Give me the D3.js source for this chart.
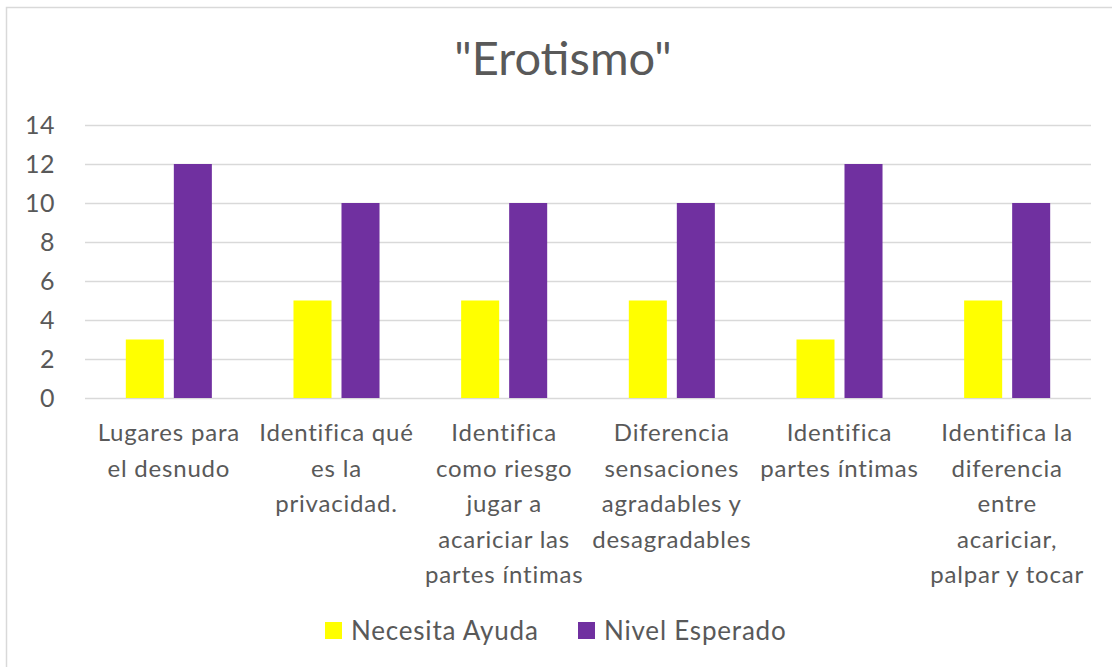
<!DOCTYPE html>
<html>
<head>
<meta charset="utf-8">
<script src="https://cdn.jsdelivr.net/npm/d3@7"></script>
<style>
  html, body { margin: 0; padding: 0; background: #fff; }
  svg { display: block; font-family: Lato, "Open Sans", sans-serif; }
</style>
</head>
<body>
<svg id="chart" width="1112" height="667"></svg>
<script>
// Chart data
const title = '"Erotismo"';
const categories = [
  "Lugares para\nel desnudo",
  "Identifica qué\nes la\nprivacidad.",
  "Identifica\ncomo riesgo\njugar a\nacariciar las\npartes íntimas",
  "Diferencia\nsensaciones\nagradables y\ndesagradables",
  "Identifica\npartes íntimas",
  "Identifica la\ndiferencia\nentre\nacariciar,\npalpar y tocar"
];
const seriesNames = ["Necesita Ayuda", "Nivel Esperado"];
const necesitaAyuda = [3, 5, 5, 5, 3, 5];
const nivelEsperado = [12, 10, 10, 10, 12, 10];
const seriesColors = ["#FFFF00", "#7030A0"];
const yTicks = [0, 2, 4, 6, 8, 10, 12, 14];

const seriesValues = [necesitaAyuda, nivelEsperado];
const rows = categories.map((c, i) => ({
  category: c,
  values: seriesNames.map((s, j) => ({ series: s, value: seriesValues[j][i] }))
}));

const svg = d3.select("#chart");
const textColor = "#595959";
const gridColor = "#d9d9d9";

// Chart frame
svg.append("rect")
  .attr("x", 6.5).attr("y", 7.5)
  .attr("width", 1200).attr("height", 800)
  .attr("fill", "none").attr("stroke", gridColor).attr("stroke-width", 1.5);

const plot = { left: 85, right: 1091, top: 125, bottom: 398 };

const x0 = d3.scaleBand().domain(categories).range([plot.left, plot.right]).padding(0);
const x1 = d3.scaleBand().domain(seriesNames).range([0, x0.bandwidth()])
  .paddingInner(0.208).paddingOuter(0.85);
const y = d3.scaleLinear().domain([0, 14]).range([plot.bottom, plot.top]);
const color = d3.scaleOrdinal().domain(seriesNames).range(seriesColors);

// Title
svg.append("text")
  .attr("x", 563).attr("y", 75)
  .attr("text-anchor", "middle")
  .attr("font-size", 47)
  .attr("fill", textColor)
  .text(title);

// Gridlines
svg.append("g")
  .selectAll("line")
  .data(yTicks)
  .join("line")
  .attr("x1", plot.left).attr("x2", plot.right)
  .attr("y1", d => Math.round(y(d)) + 0.5).attr("y2", d => Math.round(y(d)) + 0.5)
  .attr("stroke", gridColor).attr("stroke-width", 1.5);

// Y axis labels
const yAxis = d3.axisLeft(y).tickValues(yTicks).tickSize(0).tickPadding(0);
const yg = svg.append("g").attr("transform", `translate(55,0)`).call(yAxis);
yg.select(".domain").remove();
yg.selectAll("text")
  .attr("font-size", 25)
  .attr("font-family", "Lato, 'Open Sans', sans-serif")
  .attr("letter-spacing", 0.5)
  .attr("fill", textColor)
  .attr("dy", "0.35em");

// Bars
svg.append("g")
  .selectAll("g")
  .data(rows)
  .join("g")
  .attr("transform", d => `translate(${x0(d.category)},0)`)
  .selectAll("rect")
  .data(d => d.values)
  .join("rect")
  .attr("x", d => x1(d.series))
  .attr("width", x1.bandwidth())
  .attr("y", d => y(d.value))
  .attr("height", d => y(0) - y(d.value))
  .attr("fill", d => color(d.series));

// Category labels (multi-line)
const lineHeight = 35.5;
const xLabels = svg.append("g")
  .selectAll("text")
  .data(categories)
  .join("text")
  .attr("x", d => x0(d) + x0.bandwidth() / 2)
  .attr("y", 441)
  .attr("text-anchor", "middle")
  .attr("font-size", 24)
  .attr("letter-spacing", 0.8)
  .attr("fill", textColor);
xLabels.selectAll("tspan")
  .data(d => d.split("\n"))
  .join("tspan")
  .attr("x", function () { return d3.select(this.parentNode).attr("x"); })
  .attr("y", (d, i) => 441 + i * lineHeight)
  .text(d => d);

// Legend
const legendItems = [
  { name: seriesNames[0], sx: 325, tx: 351 },
  { name: seriesNames[1], sx: 578, tx: 604 }
];
const lg = svg.append("g");
lg.selectAll("rect")
  .data(legendItems)
  .join("rect")
  .attr("x", d => d.sx).attr("y", 622)
  .attr("width", 17).attr("height", 17)
  .attr("fill", d => color(d.name));
lg.selectAll("text")
  .data(legendItems)
  .join("text")
  .attr("x", d => d.tx).attr("y", 640)
  .attr("font-size", 26)
  .attr("letter-spacing", 0.8)
  .attr("fill", textColor)
  .text(d => d.name);
</script>
</body>
</html>
